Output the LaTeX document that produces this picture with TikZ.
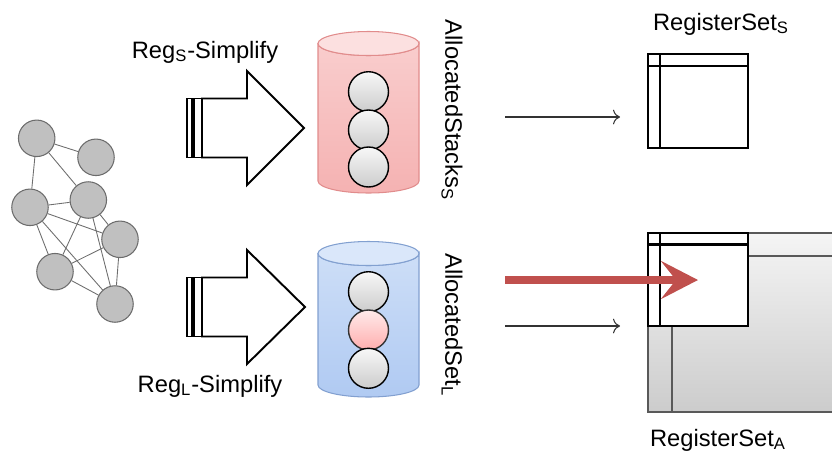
\documentclass[tikz,border=0pt]{standalone}
\usepackage{fontspec}
\setmainfont{Liberation Sans}
\usetikzlibrary{arrows.meta}

\definecolor{edgegray}{RGB}{110,110,110}
\definecolor{nodegray}{RGB}{192,192,192}
\definecolor{pinkline}{RGB}{225,140,140}
\definecolor{pinktop}{RGB}{252,224,224}
\definecolor{pinkhi}{RGB}{249,205,205}
\definecolor{pinklo}{RGB}{245,178,178}
\definecolor{blueline}{RGB}{130,160,208}
\definecolor{bluetop}{RGB}{218,231,250}
\definecolor{bluehi}{RGB}{205,222,247}
\definecolor{bluelo}{RGB}{176,202,242}
\definecolor{regred}{RGB}{192,80,77}

\tikzset{
  graphnode/.style={circle, draw=gray!85!black, fill=nodegray, line width=0.6pt, minimum size=0.73cm, inner sep=0pt},
  graphedge/.style={draw=edgegray, line width=0.5pt},
  ball/.style={circle, draw=black, line width=0.8pt, minimum size=0.8cm, inner sep=0pt, top color=gray!6, bottom color=gray!40},
  redball/.style={ball, draw=black!80, top color=red!8, bottom color=red!32},
  blockarrow/.style={draw=black, line width=1.1pt, fill=white, line join=miter},
  regbox/.style={draw=black, line width=1.5pt, fill=white},
  lbl/.style={font=\fontsize{13.5}{16}\selectfont, inner sep=1pt},
  thinarrow/.style={-{To[length=4pt]}, line width=0.6pt, draw=black!80}
}

\begin{document}
\begin{tikzpicture}[x=0.02cm, y=-0.02cm]
    \useasboundingbox (0,0) rectangle (832,454);
    \clip (0,0) rectangle (832,454);

    % Interference graph
    \foreach \n/\x/\y in {g1/36.7/138.3, g2/96/157.3, g3/30/207.3, g4/88.3/200,
                          g5/120/239.3, g6/55/271.7, g7/115/304} {
        \node[graphnode] (\n) at (\x,\y) {};
    }
    \foreach \a/\b in {g1/g2, g1/g3, g1/g4, g3/g4, g3/g5, g3/g6, g3/g7,
                       g4/g5, g4/g6, g4/g7, g5/g6, g5/g7, g6/g7} {
        \draw[graphedge] (\a) -- (\b);
    }

    % Block arrows with the two bars
    \foreach \y/\tip in {128/304, 307/305} {
        \draw[blockarrow] (202,\y-29.5) -- (247,\y-29.5) -- (247,\y-57) -- (\tip,\y)
            -- (247,\y+57) -- (247,\y+29.5) -- (202,\y+29.5) -- cycle;
        \draw[blockarrow] (194,\y-29.5) rectangle (201.5,\y+29.5);
        \draw[blockarrow] (187,\y-29.5) rectangle (192,\y+29.5);
    }
    \node[lbl] (regs) at (205,52) {Reg\textsubscript{S}-Simplify};
    \node[lbl] (regl) at (210,386) {Reg\textsubscript{L}-Simplify};

    % Cylinders
    \foreach \t/\b/\c in {43.5/181/pink, 253.5/385/blue} {
        \path[draw=\c line, line width=0.6pt, top color=\c hi, bottom color=\c lo]
            (318,\t) -- (318,\b) arc[start angle=180, end angle=0, x radius=50.5, y radius=12]
            -- (419,\t) arc[start angle=0, end angle=180, x radius=50.5, y radius=12] -- cycle;
        \draw[draw=\c line, line width=0.6pt, fill=\c top] (368.5,\t) ellipse[x radius=50.5, y radius=12];
    }
    \foreach \n/\y/\s in {s1/91.7/ball, s2/130/ball, s3/167/ball,
                          l1/291.7/ball, l2/330/redball, l3/368.3/ball} {
        \node[\s] (\n) at (368.5,\y) {};
    }
    \node[lbl, rotate=-90] (stacks) at (452,110) {AllocatedStacks\textsubscript{S}};
    \node[lbl, rotate=-90] (setl) at (452,325) {AllocatedSet\textsubscript{L}};

    % Register sets
    \draw[regbox] (648,54) rectangle (748,148);
    \draw[line width=1.5pt] (648,66) -- (748,66);
    \draw[line width=1.5pt] (660,54) -- (660,148);
    \node[lbl] (rsets) at (721,24) {RegisterSet\textsubscript{S}};

    \draw[draw=gray!70!black, line width=0.7pt, top color=gray!8, bottom color=gray!40]
        (648,233) rectangle (850,412);
    \draw[draw=gray!70!black, line width=0.7pt] (748,256) -- (850,256);
    \draw[draw=gray!70!black, line width=0.7pt] (672,326) -- (672,412);
    \draw[regbox] (648,233) rectangle (748,326);
    \draw[line width=1.5pt] (648,244.5) -- (748,244.5);
    \draw[line width=1.5pt] (660,233) -- (660,326);
    \node[lbl] (rseta) at (718,440) {RegisterSet\textsubscript{A}};

    % Arrows into the register sets
    \coordinate (sfrom) at (505,117);
    \coordinate (sto) at (620,117);
    \coordinate (lfrom) at (505,326);
    \coordinate (lto) at (620,326);
    \coordinate (afrom) at (505,280);
    \coordinate (ato) at (698,280);
    \draw[thinarrow] (sfrom) -- (sto);
    \draw[thinarrow] (lfrom) -- (lto);
    \draw[regred, line width=4.5pt, -{Stealth[length=0.74cm, width=0.76cm, inset=0.3cm]}] (afrom) -- (ato);
\end{tikzpicture}
\end{document}
